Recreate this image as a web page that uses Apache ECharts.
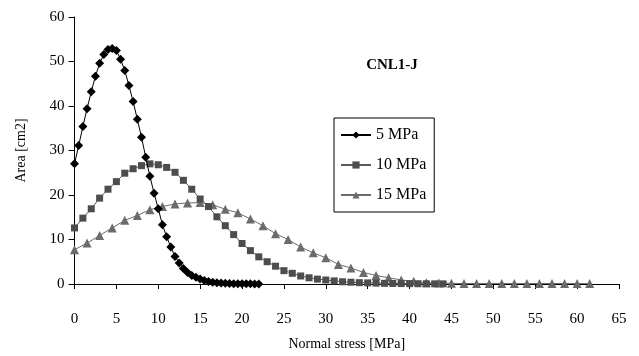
<!DOCTYPE html>
<html>
<head>
<meta charset="utf-8">
<script src="https://cdn.jsdelivr.net/npm/echarts@6/dist/echarts.min.js"></script>
<style>
  html, body { margin: 0; padding: 0; background: #fff; }
  #chart { width: 639px; height: 356px; }
</style>
</head>
<body>
<div id="chart"></div>
<script>
// normal stress [MPa] and contact area [cm2] per curve
var stress5 = [0, 0.5, 1, 1.5, 2, 2.5, 3, 3.5, 4, 4.5, 5, 5.5, 6, 6.5, 7, 7.5, 8, 8.5, 9, 9.5,
  10, 10.5, 11, 11.5, 12, 12.5, 13, 13.5, 14, 14.5, 15, 15.5, 16, 16.5, 17, 17.5, 18, 18.5, 19, 19.5,
  20, 20.5, 21, 21.5, 22];
var area5 = [27.0, 31.1, 35.4, 39.4, 43.2, 46.7, 49.6, 51.6, 52.7, 52.9, 52.5, 50.5, 48.0, 44.6, 41.0, 37.0, 33.0, 28.5, 24.2, 20.4,
  16.9, 13.3, 10.6, 8.3, 6.2, 4.7, 3.5, 2.6, 1.9, 1.5, 1.1, 0.8, 0.55, 0.4, 0.3, 0.2, 0.15, 0.1, 0.08, 0.06,
  0.05, 0.04, 0.03, 0.02, 0.02];

var stress10 = [0, 1, 2, 3, 4, 5, 6, 7, 8, 9, 10, 11, 12, 13, 14, 15, 16, 17, 18, 19,
  20, 21, 22, 23, 24, 25, 26, 27, 28, 29, 30, 31, 32, 33, 34, 35, 36, 37, 38, 39,
  40, 41, 42, 43, 44];
var area10 = [12.6, 14.8, 16.9, 19.3, 21.3, 23.0, 24.9, 25.9, 26.6, 27.0, 26.8, 26.2, 25.1, 23.3, 21.3, 19.1, 17.4, 15.1, 13.1, 11.1,
  9.1, 7.5, 6.1, 5.0, 4.0, 3.0, 2.4, 1.8, 1.4, 1.1, 0.9, 0.7, 0.5, 0.4, 0.3, 0.25, 0.2, 0.15, 0.12, 0.1,
  0.08, 0.06, 0.05, 0.04, 0.03];

var stress15 = [0, 1.5, 3, 4.5, 6, 7.5, 9, 10.5, 12, 13.5, 15, 16.5, 18, 19.5, 21, 22.5, 24, 25.5, 27, 28.5,
  30, 31.5, 33, 34.5, 36, 37.5, 39, 40.5, 42, 43.5, 45, 46.5, 48, 49.5, 51, 52.5, 54, 55.5, 57, 58.5,
  60, 61.5];
var area15 = [7.7, 9.2, 10.9, 12.6, 14.3, 15.4, 16.7, 17.4, 18.0, 18.2, 18.3, 17.8, 16.8, 16.0, 14.6, 13.1, 11.3, 10.0, 8.3, 7.0,
  5.9, 4.4, 3.6, 2.6, 1.9, 1.4, 0.9, 0.6, 0.3, 0.2, 0.15, 0.1, 0.1, 0.1, 0.1, 0.1, 0.1, 0.1, 0.1, 0.1,
  0.1, 0.1];

var seriesNames = ['5 MPa', '10 MPa', '15 MPa'];
var xTicks = [0, 65, 5];   // min, max, interval
var yTicks = [0, 60, 10];

function pairs(xs, ys) {
  return xs.map(function (x, i) { return [x, ys[i]]; });
}

var font = 'Liberation Serif';
var chart = echarts.init(document.getElementById('chart'));

chart.setOption({
  animation: false,
  backgroundColor: '#fff',
  textStyle: { fontFamily: font, color: '#000' },
  title: {
    text: 'CNL1-J',
    left: 387,
    top: 53,
    textAlign: 'center',
    textStyle: { fontFamily: font, fontSize: 15, fontWeight: 'bold', color: '#000' }
  },
  legend: {
    orient: 'vertical',
    left: 334,
    top: 118,
    width: 103,
    padding: [9, 8, 9, 6],
    itemGap: 14,
    itemWidth: 30,
    itemHeight: 9,
    borderColor: '#000',
    borderWidth: 1,
    textStyle: { fontFamily: font, fontSize: 16, color: '#000' },
    data: seriesNames
  },
  grid: { left: 74.5, right: 20, top: 17, bottom: 71.5 },
  xAxis: {
    type: 'value',
    min: xTicks[0],
    max: xTicks[1],
    interval: xTicks[2],
    name: 'Normal stress [MPa]',
    nameLocation: 'middle',
    nameGap: 53,
    nameTextStyle: { fontFamily: font, fontSize: 14, color: '#000' },
    axisLine: { lineStyle: { color: '#000', width: 1 } },
    axisTick: { length: 5, lineStyle: { color: '#000' } },
    axisLabel: { margin: 28, fontFamily: font, fontSize: 15, color: '#000' },
    splitLine: { show: false }
  },
  yAxis: {
    type: 'value',
    min: yTicks[0],
    max: yTicks[1],
    interval: yTicks[2],
    name: 'Area [cm2]',
    nameLocation: 'middle',
    nameGap: 46,
    nameTextStyle: { fontFamily: font, fontSize: 14, color: '#000' },
    axisLine: { show: true, lineStyle: { color: '#000', width: 1 } },
    axisTick: { show: true, length: 6, lineStyle: { color: '#000' } },
    axisLabel: { margin: 10, fontFamily: font, fontSize: 15, color: '#000' },
    splitLine: { show: false }
  },
  series: [
    {
      name: seriesNames[0],
      type: 'line',
      data: pairs(stress5, area5),
      symbol: 'diamond',
      symbolSize: 9,
      itemStyle: { color: '#000' },
      lineStyle: { color: '#000', width: 1 },
      z: 4
    },
    {
      name: seriesNames[1],
      type: 'line',
      data: pairs(stress10, area10),
      symbol: 'rect',
      symbolSize: 7,
      itemStyle: { color: '#4d4d4d' },
      lineStyle: { color: '#5a5a5a', width: 1 },
      z: 3
    },
    {
      name: seriesNames[2],
      type: 'line',
      data: pairs(stress15, area15),
      symbol: 'triangle',
      symbolSize: 9,
      itemStyle: { color: '#6b6b6b' },
      lineStyle: { color: '#6b6b6b', width: 1 },
      z: 2
    }
  ]
});
</script>
</body>
</html>
